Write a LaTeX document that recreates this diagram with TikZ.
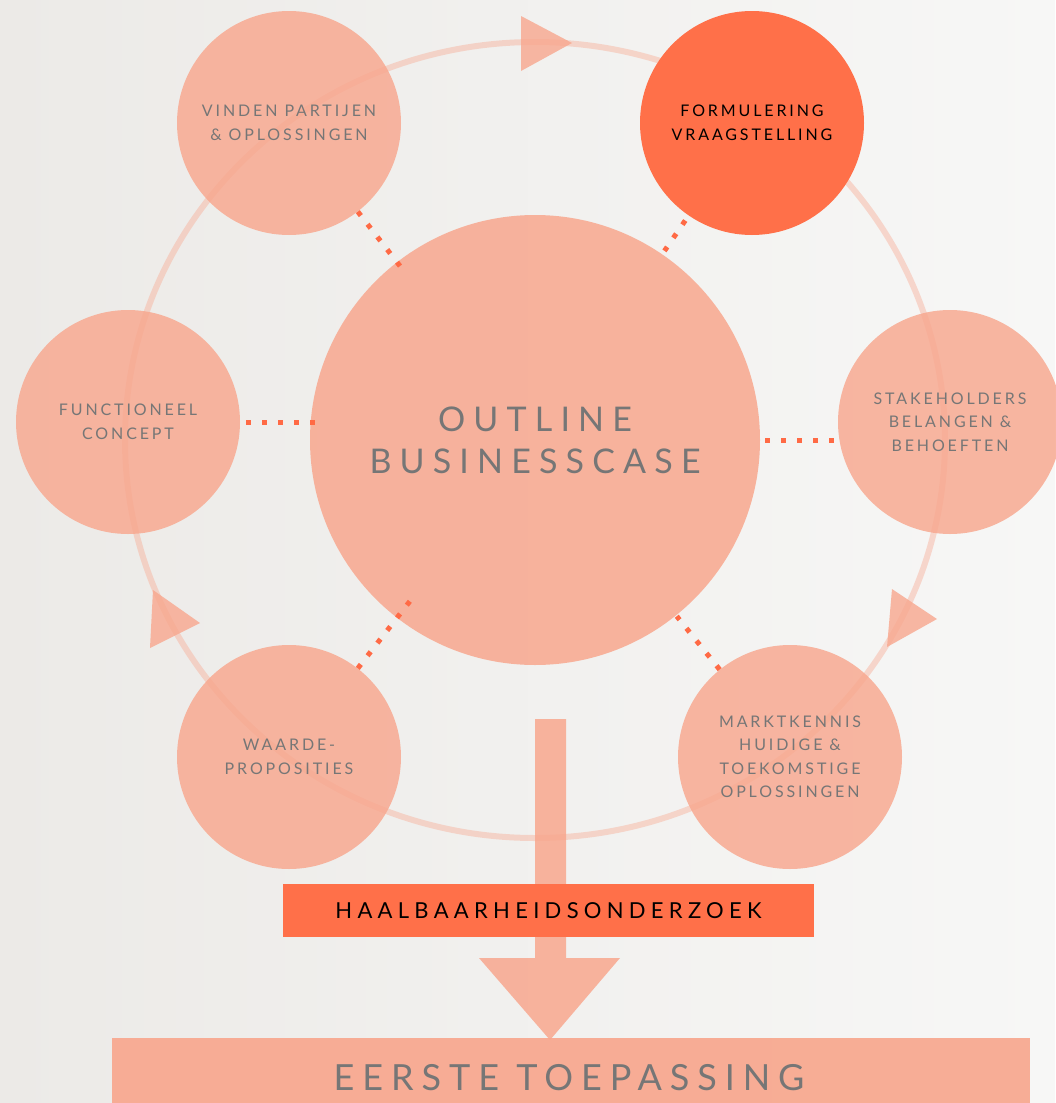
\documentclass[tikz,border=0pt]{standalone}
\usepackage{fontspec}
\setmainfont{Lato}
\newfontfamily\spsmall[LetterSpace=18]{Lato}
\newfontfamily\spbig[LetterSpace=24]{Lato}
\newfontfamily\spfoot[LetterSpace=22]{Lato}
\newfontfamily\spmid[LetterSpace=24]{Lato}
\usetikzlibrary{shadings}
\definecolor{salmon}{HTML}{F8A78E}
\definecolor{hot}{HTML}{FF7049}
\definecolor{dotc}{HTML}{FF6A45}
\definecolor{txtgray}{HTML}{767676}
\definecolor{bgl}{HTML}{ECEAE7}
\definecolor{bgr}{HTML}{F7F7F6}
\tikzset{
  stage/.style={circle, minimum size=224pt, inner sep=0pt, fill=salmon, fill opacity=0.82, text opacity=1,
     text=txtgray, align=center, font=\spsmall\fontsize{16}{23.5}\selectfont},
  hotstage/.style={stage, fill=hot, fill opacity=1, text=black},
  hub/.style={circle, minimum size=450pt, inner sep=0pt, fill=salmon, fill opacity=0.85, text opacity=1,
     text=txtgray, align=center, font=\spbig\fontsize{34}{42}\selectfont},
  dotline/.style={draw=dotc, line width=5pt, dash pattern=on 5pt off 11pt},
  ringtri/.style={fill=salmon, fill opacity=0.8, draw=none},
  ring/.style={draw=salmon, draw opacity=0.4, line width=6pt},
}
\begin{document}
\begin{tikzpicture}[x=1pt,y=-1pt]
\useasboundingbox (0,0) rectangle (1055,1103);
\shade[left color=bgl, right color=bgr] (0,0) rectangle (1055,1103);
% ring
\draw[ring] (535,440) ellipse [x radius=410, y radius=398];
% stage circles
\node[hub] (c) at (535,440) {OUTLINE\\BUSINESSCASE};
\node[stage] (tl) at (289,123) {VINDEN PARTIJEN\\\& OPLOSSINGEN};
\node[hotstage] (tr) at (752,123) {FORMULERING\\VRAAGSTELLING};
\node[stage] (l) at (128,422) {FUNCTIONEEL\\CONCEPT};
\node[stage] (r) at (950,422) {STAKEHOLDERS\\BELANGEN \&\\BEHOEFTEN};
\node[stage] (bl) at (289,757) {WAARDE-\\PROPOSITIES};
\node[stage] (br) at (790,757) {MARKTKENNIS\\HUIDIGE \&\\TOEKOMSTIGE\\OPLOSSINGEN};
% ring arrowheads
\fill[ringtri] (521,16) -- (521,71) -- (572,43) -- cycle;
\fill[ringtri] (892,589) -- (887,647) -- (937,619) -- cycle;
\fill[ringtri] (153,590) -- (150,648) -- (200,623) -- cycle;
% dotted connectors
\draw[dotline, shorten >=-5pt] (tl) -- (c);
\draw[dotline, shorten <=6pt, shorten >=4pt] (tr) -- (c);
\draw[dotline, shorten <=6pt, shorten >=-5pt] (l.east) -- (l.east -| c.west);
\draw[dotline, shorten <=5pt, shorten >=4pt] (c.east) -- (c.east -| r.west);
\draw[dotline, shorten >=-21pt] (bl) -- (c);
\draw[dotline, shorten >=1pt] (br) -- (c);
% big arrow
\fill[salmon, fill opacity=0.85] (535,719) -- (566,719) -- (566,958) -- (620,958) -- (550,1040) -- (479,958) -- (535,958) -- cycle;
% boxes
\node[fill=hot, minimum width=531pt, minimum height=53pt, inner sep=0pt, font=\spmid\fontsize{22}{24}\selectfont, text=black] (h) at (548.5,910.5) {HAALBAARHEIDSONDERZOEK};
\node[fill=salmon, fill opacity=0.92, minimum width=918pt, minimum height=70pt, inner sep=0pt, anchor=north west] (e) at (112,1038) {};
\node[font=\spfoot\fontsize{36}{40}\selectfont, text=txtgray, anchor=base] (et) at (569,1090) {EERSTE TOEPASSING};
\end{tikzpicture}
\end{document}
